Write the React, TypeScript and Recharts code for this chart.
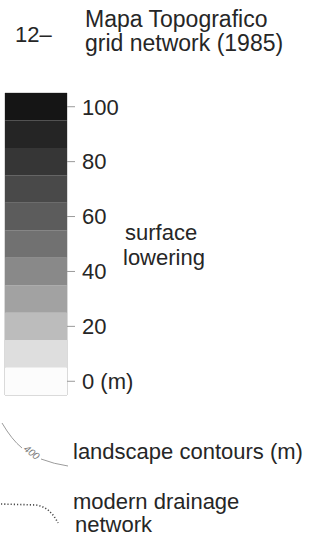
import React from 'react';
import { ComposedChart, Bar, XAxis, YAxis, ReferenceArea } from 'recharts';

// surface lowering classes (m), lower edge of each 10 m band, bottom to top
const bandStarts = [-5, 5, 15, 25, 35, 45, 55, 65, 75, 85, 95];
const bandColors = [
  '#fcfcfc', '#dedede', '#bcbcbc', '#a2a2a2', '#898989', '#717171',
  '#5c5c5c', '#494949', '#363636', '#252525', '#151515',
];
const loweringTicks = [0, 20, 40, 60, 80, 100];
const titleLines = ['Mapa Topografico', 'grid network (1985)'];
const scaleLabel = ['surface', 'lowering'];

const scaleRow: Record<string, any> = { name: 'lowering' };
bandStarts.forEach((lo, i) => {
  scaleRow['b' + i] = [lo, lo + 10];
});
const scaleData = [scaleRow];

const textColor = '#262626';

function tickText(v: number) {
  return v === 0 ? '0 (m)' : String(v);
}

export default function App() {
  return (
    <div
      style={{
        position: 'absolute',
        left: 0,
        top: 0,
        width: 322,
        height: 539,
        background: '#fff',
        fontFamily: '"Liberation Sans", Arial, sans-serif',
      }}
    >
      <ComposedChart
        width={322}
        height={539}
        data={scaleData}
        margin={{ top: 93, right: 175, bottom: 144, left: 5 }}
        barCategoryGap={0}
        barGap={0}
      >
        {/* one hidden x axis per band so the bands sit on top of each other */}
        {bandStarts.map((lo, i) => (
          <XAxis key={'x' + lo} xAxisId={i} dataKey="name" hide />
        ))}
        <YAxis
          orientation="right"
          type="number"
          domain={[-5, 105]}
          ticks={loweringTicks}
          interval={0}
          width={80}
          axisLine={false}
          tickSize={8}
          tickMargin={7}
          tickLine={{ stroke: '#9a9a9a' }}
          tick={{ fill: textColor, fontSize: 22 }}
          tickFormatter={tickText}
        />
        {bandStarts.map((lo, i) => (
          <Bar
            key={lo}
            xAxisId={i}
            dataKey={'b' + i}
            fill={bandColors[i]}
            isAnimationActive={false}
          />
        ))}
        <ReferenceArea
          xAxisId={0}
          y1={bandStarts[0]}
          y2={bandStarts[bandStarts.length - 1] + 10}
          fill="none"
          stroke="#b5b5b5"
          strokeWidth={1}
          ifOverflow="visible"
        />
      </ComposedChart>

      <svg
        width={322}
        height={539}
        style={{ position: 'absolute', left: 0, top: 0, pointerEvents: 'none' }}
      >
        <text x={15} y={42} fontSize={22} fill={textColor}>12–</text>
        {titleLines.map((t, i) => (
          <text key={t} x={85} y={27 + i * 24} fontSize={23} fill={textColor}>
            {t}
          </text>
        ))}
        {scaleLabel.map((t, i) => (
          <text key={t} x={i === 0 ? 125 : 123} y={240 + i * 25} fontSize={22} fill={textColor}>
            {t}
          </text>
        ))}

        {/* contour line symbol */}
        <path
          d="M2,423 Q12,440 22,448 M41,459 Q54,464 68,466"
          fill="none"
          stroke="#9c9c9c"
          strokeWidth={1}
        />
        <text
          x={23}
          y={450}
          fontSize={10}
          fontStyle="italic"
          fill="#7a7a7a"
          transform="rotate(38 23 450)"
        >
          400
        </text>
        <text x={73} y={459} fontSize={22} fill={textColor}>landscape contours (m)</text>

        {/* drainage symbol */}
        <path
          d="M1,504 L36,505 Q50,507 58,523"
          fill="none"
          stroke="#4a4a4a"
          strokeWidth={1.6}
          strokeDasharray="1.2 2"
        />
        <text x={73} y={509} fontSize={22} fill={textColor}>modern drainage</text>
        <text x={75} y={532} fontSize={22} fill={textColor}>network</text>
      </svg>
    </div>
  );
}
